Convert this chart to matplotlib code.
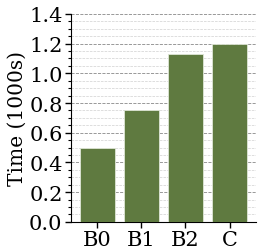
import matplotlib
matplotlib.use('Agg')
import matplotlib.pyplot as plt
from matplotlib.ticker import MultipleLocator

# Datos
labels = ['B0', 'B1', 'B2', 'C']
times = [0.50, 0.75, 1.13, 1.20]

plt.rcParams['font.family'] = 'DejaVu Serif'

fig = plt.figure(figsize=(2.58, 2.53), dpi=100)
ax = fig.add_axes([0.275, 0.119, 0.717, 0.822])

ax.bar(range(len(labels)), times, width=0.8, color='#5f7a40',
       edgecolor='#dfe6d6', linewidth=0.6, zorder=3)

ax.set_xlim(-0.6, 3.6)
ax.set_ylim(0, 1.4)
ax.set_xticks(range(len(labels)))
ax.set_xticklabels(labels)
ax.yaxis.set_major_locator(MultipleLocator(0.2))
ax.yaxis.set_minor_locator(MultipleLocator(0.05))
ax.grid(which='major', axis='y', linestyle='--', color='#888888', linewidth=0.6, zorder=0)
ax.grid(which='minor', axis='y', linestyle='--', color='#d0d0d0', linewidth=0.5, zorder=0)

ax.tick_params(axis='both', which='major', labelsize=15, length=4, width=1, pad=2)
ax.tick_params(axis='y', which='minor', length=2, width=0.8)
ax.set_ylabel('Time (1000s)', fontsize=14.5, labelpad=2)

ax.spines['top'].set_visible(False)
ax.spines['right'].set_visible(False)

fig.savefig('out.png', dpi=100)
